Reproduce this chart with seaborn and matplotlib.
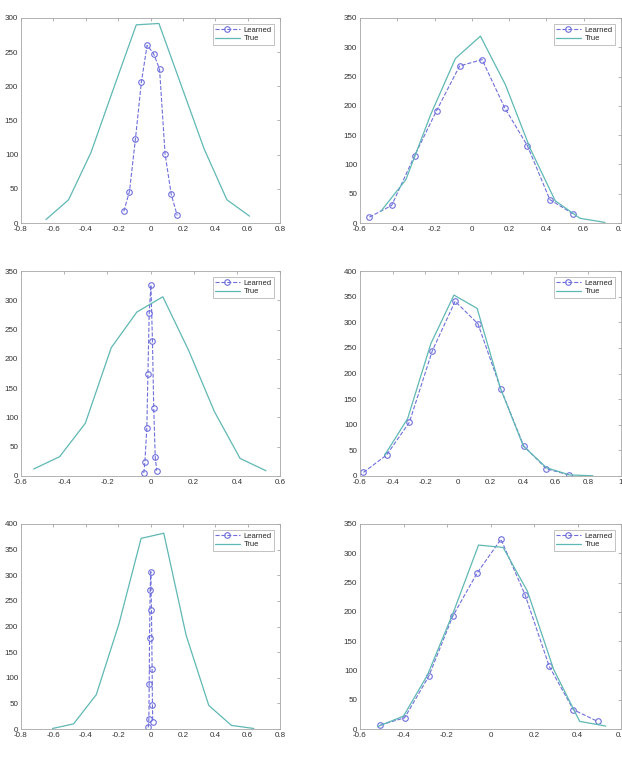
import numpy as np
import pandas as pd
import matplotlib
matplotlib.use("Agg")
import matplotlib.pyplot as plt
import seaborn as sns
from matplotlib.ticker import MultipleLocator, FuncFormatter

sns.set_style("white")
plt.rcParams['font.family'] = ['Liberation Sans', 'DejaVu Sans']

# panel 1 (top left)
p1_learned_x = [-0.165, -0.130, -0.093, -0.056, -0.021, 0.019, 0.056, 0.090, 0.128, 0.165]
p1_learned_y = [17, 46, 123, 207, 260, 248, 225, 101, 42, 11]
p1_true_x = [-0.646, -0.506, -0.368, -0.228, -0.088, 0.052, 0.192, 0.332, 0.472, 0.612]
p1_true_y = [5, 34, 103, 197, 290, 292, 200, 108, 34, 10]

# panel 2 (top right)
p2_learned_x = [-0.550, -0.430, -0.307, -0.189, -0.066, 0.055, 0.177, 0.298, 0.418, 0.541]
p2_learned_y = [10, 30, 115, 192, 268, 279, 196, 132, 40, 16]
p2_true_x = [-0.488, -0.354, -0.221, -0.088, 0.046, 0.180, 0.313, 0.447, 0.580, 0.714]
p2_true_y = [20, 74, 185, 281, 319, 236, 127, 38, 8, 1]

# panel 3 (middle left)
p3_learned_x = [-0.031, -0.026, -0.017, -0.012, -0.006, 0.002, 0.009, 0.015, 0.022, 0.029]
p3_learned_y = [5, 24, 82, 174, 278, 326, 231, 116, 32, 9]
p3_true_x = [-0.541, -0.421, -0.302, -0.182, -0.063, 0.057, 0.176, 0.296, 0.415, 0.535]
p3_true_y = [12, 33, 90, 219, 280, 306, 215, 110, 30, 9]

# panel 4 (middle right)
p4_learned_x = [-0.579, -0.437, -0.297, -0.157, -0.017, 0.123, 0.263, 0.403, 0.543, 0.683]
p4_learned_y = [7, 41, 105, 244, 341, 297, 170, 59, 14, 2]
p4_true_x = [-0.450, -0.308, -0.166, -0.024, 0.118, 0.260, 0.402, 0.544, 0.686, 0.828]
p4_true_y = [40, 112, 258, 353, 327, 172, 58, 16, 2, 0.5]

# panel 5 (bottom left)
p5_learned_x = [-0.014, -0.010, -0.008, -0.006, -0.002, 0.002, 0.006, 0.010, 0.012, 0.014]
p5_learned_y = [3, 19, 88, 177, 272, 307, 232, 117, 46, 14]
p5_true_x = [-0.605, -0.475, -0.335, -0.195, -0.058, 0.082, 0.220, 0.360, 0.500, 0.638]
p5_true_y = [1, 10, 67, 205, 372, 382, 183, 46, 7, 1]

# panel 6 (bottom right)
p6_learned_x = [-0.506, -0.395, -0.284, -0.173, -0.062, 0.048, 0.159, 0.270, 0.381, 0.492]
p6_learned_y = [7, 19, 90, 193, 266, 324, 229, 107, 33, 13]
p6_true_x = [-0.520, -0.400, -0.290, -0.170, -0.055, 0.058, 0.170, 0.290, 0.410, 0.530]
p6_true_y = [4, 22, 92, 200, 314, 310, 235, 102, 13, 5]

panels = [
    (p1_learned_x, p1_learned_y, p1_true_x, p1_true_y, (-0.8, 0.8), 300),
    (p2_learned_x, p2_learned_y, p2_true_x, p2_true_y, (-0.6, 0.8), 350),
    (p3_learned_x, p3_learned_y, p3_true_x, p3_true_y, (-0.6, 0.6), 350),
    (p4_learned_x, p4_learned_y, p4_true_x, p4_true_y, (-0.6, 1.0), 400),
    (p5_learned_x, p5_learned_y, p5_true_x, p5_true_y, (-0.8, 0.8), 400),
    (p6_learned_x, p6_learned_y, p6_true_x, p6_true_y, (-0.6, 0.6), 350),
]

learned_color = '#6f6fdc'
true_color = '#5fb8b4'
grey = '#a6a6a6'

fig = plt.figure(figsize=(6.22, 7.59), dpi=100)
lefts = [21 / 622, 360 / 622]
widths = [259 / 622, 261 / 622]
bottoms = [1 - 223 / 759, 1 - 476 / 759, 1 - 729 / 759]
height = 205 / 759

for i, (lx, ly, tx, ty, xlim, ymax) in enumerate(panels):
    row, col = divmod(i, 2)
    ax = fig.add_axes([lefts[col], bottoms[row], widths[col], height])
    sns.lineplot(x=lx, y=ly, ax=ax, sort=False, color=learned_color,
                 linestyle='--', linewidth=0.8, marker='o', markersize=4,
                 markerfacecolor='none', markeredgecolor=learned_color,
                 markeredgewidth=0.8, label='Learned')
    sns.lineplot(x=tx, y=ty, ax=ax, sort=False, color=true_color,
                 linewidth=0.9, label='True')
    ax.set_xlim(*xlim)
    ax.set_ylim(0, ymax)
    ax.xaxis.set_major_locator(MultipleLocator(0.2))
    ax.yaxis.set_major_locator(MultipleLocator(50))
    ax.xaxis.set_major_formatter(FuncFormatter(lambda v, p: f'{round(v, 1):g}'))
    ax.yaxis.set_major_formatter(FuncFormatter(lambda v, p: f'{v:g}'))
    ax.tick_params(direction='in', top=True, right=True, length=2.5, width=0.6,
                   colors=grey, labelcolor='#333333', labelsize=5.8)
    ax.tick_params(axis='x', pad=2.5)
    ax.tick_params(axis='y', pad=2)
    for s in ax.spines.values():
        s.set_color(grey)
        s.set_linewidth(0.6)
    leg = ax.legend(loc='upper right', fontsize=5.5, frameon=True, fancybox=False,
                    handlelength=3.2, borderpad=0.3, labelspacing=0.15,
                    handletextpad=0.5, borderaxespad=0.8)
    leg.get_frame().set_edgecolor(grey)
    leg.get_frame().set_linewidth(0.6)

fig.savefig('out.png', dpi=100)
